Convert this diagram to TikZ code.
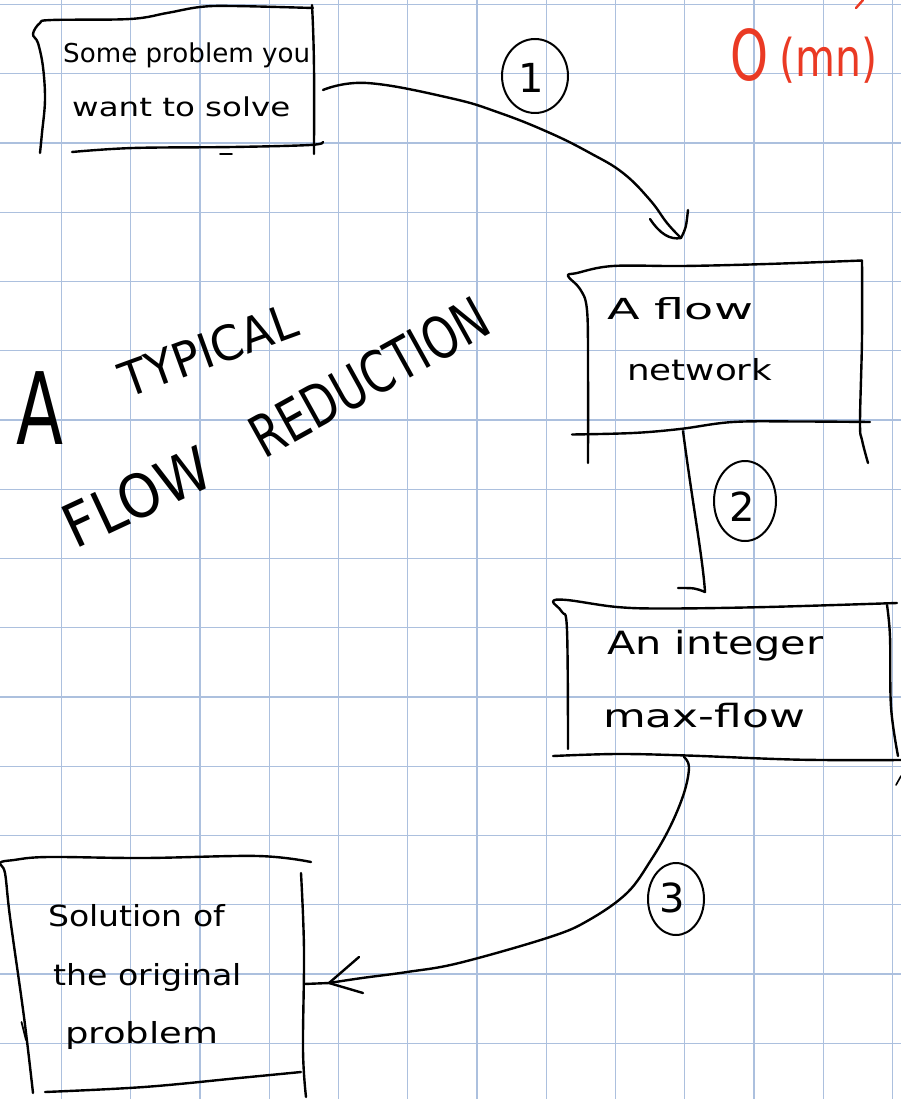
\documentclass[tikz,border=0pt]{standalone}
\usepackage{fontspec}
\setmainfont{DejaVu Sans}
\usepackage{graphicx}
\definecolor{gridblue}{RGB}{172,192,222}
\definecolor{inkred}{RGB}{234,58,36}
\newcommand\fitw[2]{\resizebox{#1pt}{\height}{#2}}
\begin{document}
\begin{tikzpicture}[x=1pt,y=-1pt,
  gridline/.style={draw=gridblue,line width=1.1pt},
  hand/.style={line width=2.4pt,line cap=round,line join=round},
  num/.style={line width=2pt},
  txt/.style={inner sep=0pt,anchor=base west},
  ttl/.style={inner sep=0pt,anchor=center},
  fs/.style={font=\fontsize{#1}{#1}\selectfont}
]
\useasboundingbox (0,0) rectangle (901,1099);
\fill[white] (0,0) rectangle (901,1099);
\foreach \k in {0,...,12} \draw[gridline] ({61.5+69.25*\k},0) -- ++(0,1099);
\foreach \k in {0,...,15} \draw[gridline] (0,{4.5+69.25*\k}) -- ++(901,0);

% ---------- connector end points ----------
\coordinate (b1out) at (323,90);
\coordinate (a1tip) at (681,238);
\coordinate (b2out) at (683,431);
\coordinate (a2tip) at (705,592);
\coordinate (b3out) at (684,757);
\coordinate (a3tip) at (329,983);
\coordinate (b4in) at (304,984);

% ---------- box 1 ----------
\draw[hand] plot[smooth,tension=0.6] coordinates {(40,153) (42,133) (45,100) (43,67) (38,43) (33,34) (40,23) (52,20) (130,19) (167,13) (200,7) (233,6) (313,8)};
\draw[hand] (312,5) .. controls (315,60) and (314,110) .. (314,154);
\draw[hand] plot[smooth,tension=0.6] coordinates {(72,152) (133,148) (233,147) (310,145) (323,142)};
\draw[line width=1.6pt,line cap=round] (220,154) -- (232,154);
\node[txt,fs=26] (t1a) at (63,63) {\fitw{247}{Some problem you}};
\node[txt,fs=26] (t1b) at (72,117) {\fitw{218}{want to solve}};

% ---------- box 2 ----------
\draw[hand] plot[smooth,tension=0.6] coordinates {(588,463) (588,373) (587,310) (580,289) (568,276) (577,273) (613,266) (683,266) (767,264) (862,260.5)};
\draw[hand] plot[smooth,tension=0.6] coordinates {(862,260.5) (862,338) (860,422) (862,440) (868,463)};
\draw[hand] plot[smooth,tension=0.6] coordinates {(572,434.5) (633,433) (680,429) (733,422) (800,421.5) (870,422)};
\node[txt,fs=29] (t2a) at (607,319) {\fitw{146}{A flow}};
\node[txt,fs=29] (t2b) at (627,380) {\fitw{145}{network}};

% ---------- box 3 ----------
\draw[hand] plot[smooth,tension=0.6] coordinates {(568,749) (567,630) (562,612) (553,601.5) (567,600) (617,607) (667,608.5) (767,607) (897,603)};
\draw[hand] plot[smooth,tension=0.6] coordinates {(887,605) (890,637) (891,707) (898,756)};
\draw[hand] plot[smooth,tension=0.6] coordinates {(553,756) (617,754) (687,755.5) (800,759.7) (901,760)};
\draw[line width=1.6pt,line cap=round] (896,785) -- (901,776);
\node[txt,fs=32] (t3a) at (607,654) {\fitw{216}{An integer}};
\node[txt,fs=32] (t3b) at (603,727) {\fitw{202}{max-flow}};

% ---------- box 4 ----------
\draw[hand] plot[smooth,tension=0.6] coordinates {(33,1093) (24,1017) (10,917) (5,873) (0,863) (14,860) (48,857) (144,858) (258,856) (311,862)};
\draw[line width=1.8pt,line cap=round] (21.5,1022) -- (26,1040);
\draw[hand] plot[smooth,tension=0.6] coordinates {(301,873) (304,950) (303,1050) (306,1097)};
\draw[hand] plot[smooth,tension=0.6] coordinates {(45,1092) (144,1087) (239,1078) (301,1072)};
\node[txt,fs=29] (t4a) at (48,926) {\fitw{177}{Solution of}};
\node[txt,fs=29] (t4b) at (53,985) {\fitw{189}{the original}};
\node[txt,fs=29] (t4c) at (65,1043) {\fitw{153}{problem}};

% ---------- connectors ----------
\draw[hand] plot[smooth,tension=0.7] coordinates {(b1out) (367,83) (450,98) (500,113) (550,133) (590,153) (623,173) (650,200) (667,223) (a1tip)};
\draw[hand] (650,219) .. controls (660,234) and (670,240) .. (a1tip) .. controls (686,228) .. (688,210);

\draw[hand] (b2out) .. controls (692,500) and (703,560) .. (a2tip);
\draw[hand] (a2tip) .. controls (695,588) .. (678,588);

\draw[hand] plot[smooth,tension=0.6] coordinates {(b3out) (689,767) (684,793) (670,827) (651,860) (627,893) (589,920) (550,937) (459,963) (407,972) (362,978) (a3tip)};
\draw[hand] (359,957) -- (a3tip) -- (363,993);
\draw[hand] (b4in) -- (a3tip);

% ---------- step numbers ----------
\draw[num] (535,76) ellipse [x radius=33pt, y radius=37pt];
\node[ttl,fs=40] (n1) at (531,78) {1};
\draw[num] (745,501) ellipse [x radius=31pt, y radius=40pt];
\node[ttl,fs=40] (n2) at (742,507) {2};
\draw[num] (676,899) ellipse [x radius=28pt, y radius=36pt];
\node[ttl,fs=40] (n3) at (672,898) {3};

% ---------- red cost ----------
\node[txt,text=inkred,fs=70] (bigO) at (730,81) {\fitw{38}{O}};
\node[txt,text=inkred,fs=52] (mn) at (779,77) {\fitw{98}{(mn)}};
\draw[hand,draw=inkred] (856,8) -- (863,0);

% ---------- title ----------
\node[ttl,fs=100] (tA) at (40,408) {\fitw{47}{A}};
\node[ttl,fs=48,rotate=20] (tT) at (208,350) {\fitw{185}{TYPICAL}};
\node[ttl,fs=60,rotate=25] (tF) at (137,497) {\fitw{155}{FLOW}};
\node[ttl,fs=58,rotate=29] (tR) at (369,377) {\fitw{263}{REDUCTION}};
\end{tikzpicture}
\end{document}
